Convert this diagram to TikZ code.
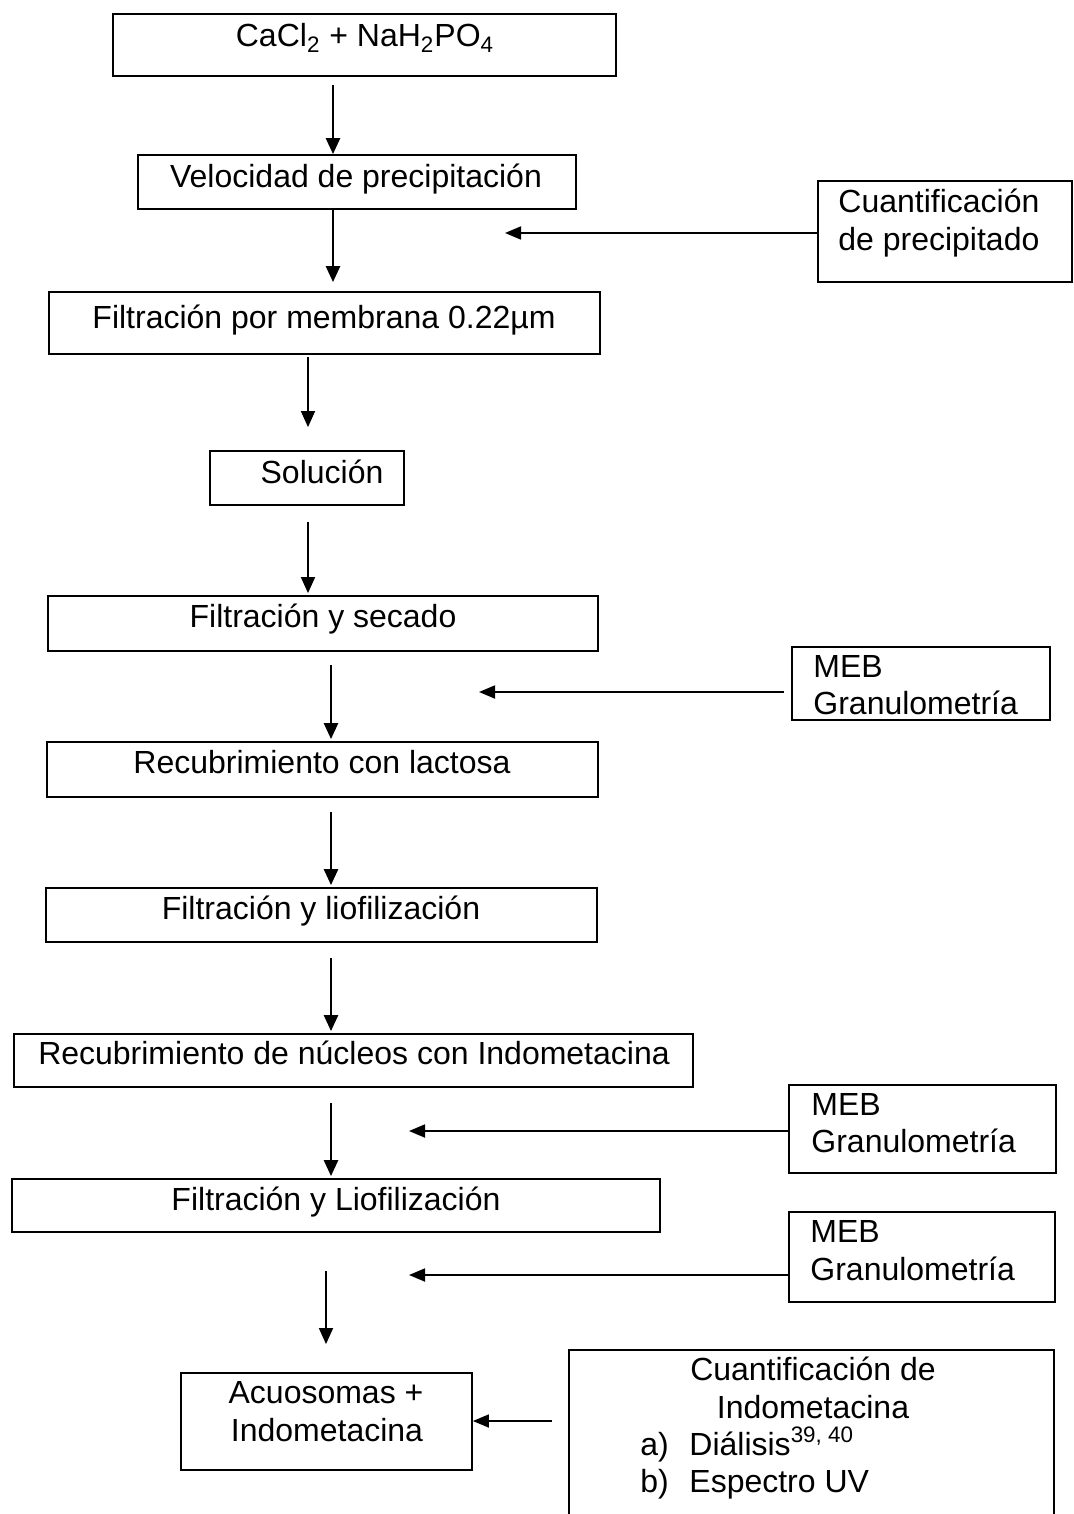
\documentclass[tikz,border=0pt]{standalone}
\usepackage{fontspec}
\setmainfont{Liberation Sans}
\usetikzlibrary{arrows.meta,fit}
\begin{document}
\begin{tikzpicture}[x=0.5pt,y=-0.5pt,
  box/.style={draw, line width=0.9pt, inner sep=0pt},
  txt/.style={anchor=base, inner sep=0pt, font=\fontsize{16}{18.75}\selectfont},
  txtl/.style={txt, anchor=base west},
  thickarr/.style={line width=1.3pt, -{Triangle[length=8pt,width=7pt]}},
  thinarr/.style={line width=0.8pt, -{Triangle[length=8pt,width=7pt]}},
  harr/.style={line width=0.9pt, -{Triangle[length=8pt,width=6.5pt]}}]
\useasboundingbox (0,0) rectangle (1073,1514);
\clip (0,0) rectangle (1073,1514);

% main column of process steps
\node[box, fit={(113,14) (616,76)}] (n1) {};
\node[txt] (t1) at (365,47) {CaCl\textsubscript{2} + NaH\textsubscript{2}PO\textsubscript{4}};
\node[box, fit={(138,155) (576,209)}] (n2) {};
\node[txt] (t2) at (356,188) {Velocidad de precipitación};
\node[box, fit={(49,292) (600,354)}] (n4) {};
\node[txt] (t4) at (324,328) {Filtración por membrana 0.22µm};
\node[box, fit={(210,451) (404,505)}] (n5) {};
\node[txt] (t5) at (322,483) {Solución};
\node[box, fit={(48,596) (598,651)}] (n6) {};
\node[txt] (t6) at (323,627) {Filtración y secado};
\node[box, fit={(47,742) (598,797)}] (n8) {};
\node[txt] (t8) at (322,773) {Recubrimiento con lactosa};
\node[box, fit={(46,888) (597,942)}] (n9) {};
\node[txt] (t9) at (321,919) {Filtración y liofilización};
\node[box, fit={(14,1034) (693,1087)}] (n10) {};
\node[txt] (t10) at (354,1064) {Recubrimiento de núcleos con Indometacina};
\node[box, fit={(12,1179) (660,1232)}] (n12) {};
\node[txt] (t12) at (336,1210) {Filtración y Liofilización};
\node[box, fit={(181,1373) (472,1470)}] (acu) {};
\node[txt] (t14a) at (326,1403) {Acuosomas +};
\node[txt] (t14b) at (327,1441) {Indometacina};

% characterisation boxes on the right
\node[box, fit={(818,181) (1072,282)}] (q1) {};
\node[txtl] (u1a) at (838,213) {Cuantificación};
\node[txtl] (u1b) at (838,250) {de precipitado};
\node[box, fit={(792,647) (1050,720)}] (m1) {};
\node[txtl] (v1a) at (813,677) {MEB};
\node[txtl] (v1b) at (813,714) {Granulometría};
\node[box, fit={(789,1085) (1056,1173)}] (m2) {};
\node[txtl] (v2a) at (811,1115) {MEB};
\node[txtl] (v2b) at (811,1152) {Granulometría};
\node[box, fit={(789,1212) (1055,1302)}] (m3) {};
\node[txtl] (v3a) at (810,1242) {MEB};
\node[txtl] (v3b) at (810,1280) {Granulometría};
\node[box, fit={(569,1350) (1054,1540)}] (q2) {};
\node[txt] (w1) at (813,1380) {Cuantificación de};
\node[txt] (w2) at (813,1418) {Indometacina};
\node[txtl] (w3) at (640,1455) {a)};
\node[txtl] (w4) at (689,1455) {Diálisis\textsuperscript{39, 40}};
\node[txtl] (w5) at (640,1492) {b)};
\node[txtl] (w6) at (689,1492) {Espectro UV};

% columns of the vertical connectors
\coordinate (xa) at (333,0);
\coordinate (xb) at (308,0);
\coordinate (xc) at (331,0);
\coordinate (xd) at (326,0);

\draw[thickarr, shorten <=4pt] (n1.south -| xa) -- (n2.north -| xa);
\draw[thickarr, shorten >=4.5pt] (n2.south -| xa) -- (n4.north -| xa);
\draw[thinarr, shorten <=1pt, shorten >=11.5pt] (n4.south -| xb) -- (n5.north -| xb);
\draw[thinarr, shorten <=8pt, shorten >=1pt] (n5.south -| xb) -- (n6.north -| xb);
\draw[thickarr, shorten <=6.5pt, shorten >=1pt] (n6.south -| xc) -- (n8.north -| xc);
\draw[thickarr, shorten <=7pt, shorten >=1pt] (n8.south -| xc) -- (n9.north -| xc);
\draw[thickarr, shorten <=7.5pt, shorten >=1pt] (n9.south -| xc) -- (n10.north -| xc);
\draw[thickarr, shorten <=7.5pt, shorten >=1pt] (n10.south -| xc) -- (n12.north -| xc);
\draw[thinarr, shorten <=19pt, shorten >=14pt] (n12.south -| xd) -- (acu.north -| xd);

% horizontal connectors from the characterisation boxes
\coordinate (e1) at (505,233);
\coordinate (e2) at (479,692);
\coordinate (e3) at (409,1131);
\coordinate (e4) at (409,1275);
\coordinate (e5) at (0,1421);
\draw[harr] (e1 -| q1.west) -- (e1);
\draw[harr, shorten <=3.5pt] (e2 -| m1.west) -- (e2);
\draw[harr] (e3 -| m2.west) -- (e3);
\draw[harr] (e4 -| m3.west) -- (e4);
\draw[harr, shorten <=8pt] (e5 -| q2.west) -- (e5 -| acu.east);
\end{tikzpicture}
\end{document}
